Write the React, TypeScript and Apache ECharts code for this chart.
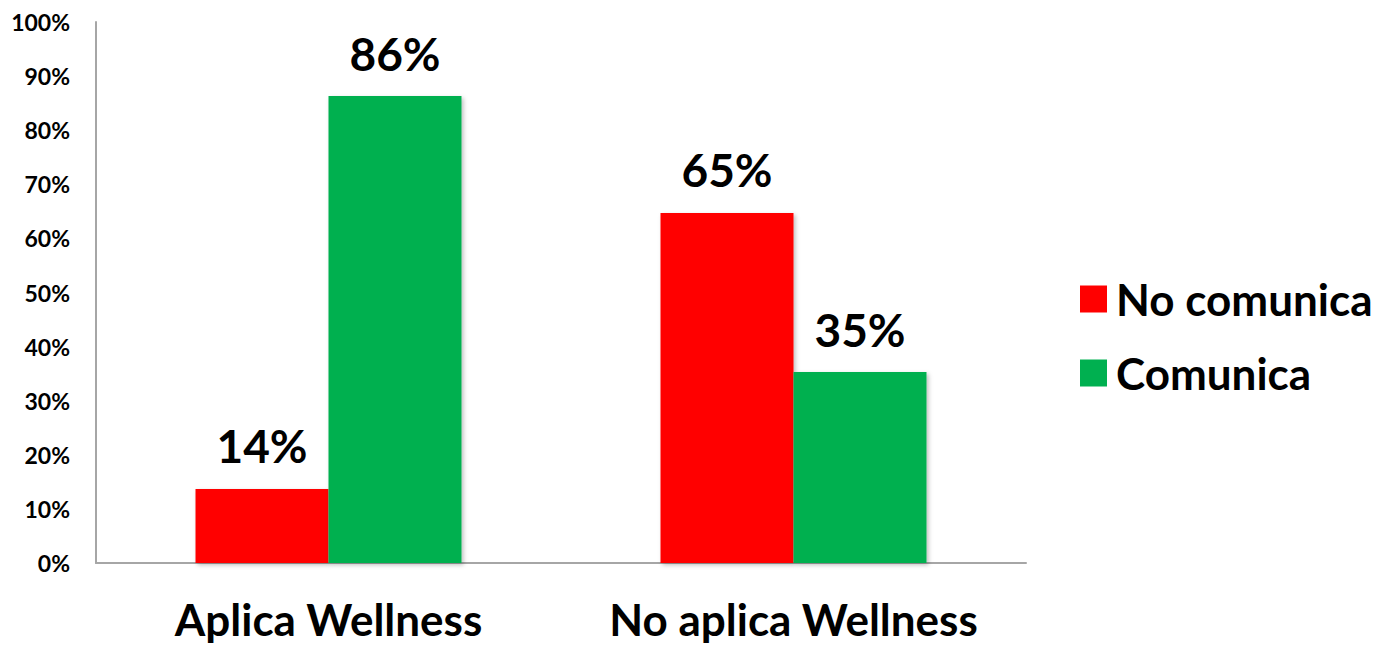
import React, { useEffect, useRef } from "react";
import * as echarts from "echarts";

const categories = ["Aplica Wellness", "No aplica Wellness"];
const noComunica = [13.7, 64.7];
const comunica = [86.3, 35.3];
const seriesNames = ["No comunica", "Comunica"];

const FONT = "Lato";

export default function App() {
  const ref = useRef<HTMLDivElement>(null);
  useEffect(() => {
    if (!ref.current) return;
    const chart = echarts.init(ref.current, undefined, { renderer: "svg" });
    const label = {
      show: true,
      position: "top" as const,
      distance: 20,
      formatter: (p: any) => Math.round(p.value) + "%",
      fontFamily: FONT,
      fontWeight: "bold" as const,
      fontSize: 46,
      color: "#000",
    };
    chart.setOption({
      animation: false,
      backgroundColor: "#fff",
      grid: { left: 96, right: 351, top: 22, bottom: 82, containLabel: false },
      legend: {
        orient: "vertical",
        left: 1075,
        top: 272,
        itemWidth: 27,
        itemHeight: 27,
        itemGap: 30,
        icon: "rect",
        textStyle: { fontFamily: FONT, fontWeight: "bold", fontSize: 44, color: "#000", padding: [0, 0, 0, 4] },
        data: seriesNames,
      },
      xAxis: {
        type: "category",
        data: categories,
        axisLine: { lineStyle: { color: "#a6a6a6", width: 2 } },
        axisTick: { show: false },
        axisLabel: {
          interval: 0,
          hideOverlap: false,
          fontFamily: FONT,
          fontWeight: "bold",
          fontSize: 44,
          color: "#000",
          margin: 34,
        },
      },
      yAxis: {
        type: "value",
        min: 0,
        max: 100,
        interval: 10,
        axisLine: { show: true, lineStyle: { color: "#a6a6a6", width: 2 } },
        axisTick: { show: false },
        splitLine: { show: false },
        axisLabel: {
          formatter: "{value}%",
          fontFamily: FONT,
          fontWeight: "bold",
          fontSize: 23,
          color: "#000",
          margin: 26,
        },
      },
      series: [
        {
          name: seriesNames[0],
          type: "bar",
          data: noComunica,
          barGap: "0%",
          barCategoryGap: "42.8%",
          itemStyle: { color: "#ff0000", shadowColor: "rgba(0,0,0,0.25)", shadowBlur: 4, shadowOffsetX: 2, shadowOffsetY: 2 },
          label,
        },
        {
          name: seriesNames[1],
          type: "bar",
          data: comunica,
          barGap: "0%",
          barCategoryGap: "42.8%",
          itemStyle: { color: "#00b050", shadowColor: "rgba(0,0,0,0.25)", shadowBlur: 4, shadowOffsetX: 2, shadowOffsetY: 2 },
          label,
        },
      ],
    });
    return () => chart.dispose();
  }, []);
  return <div ref={ref} style={{ width: 1377, height: 645, position: "absolute", left: 0, top: 0 }} />;
}
